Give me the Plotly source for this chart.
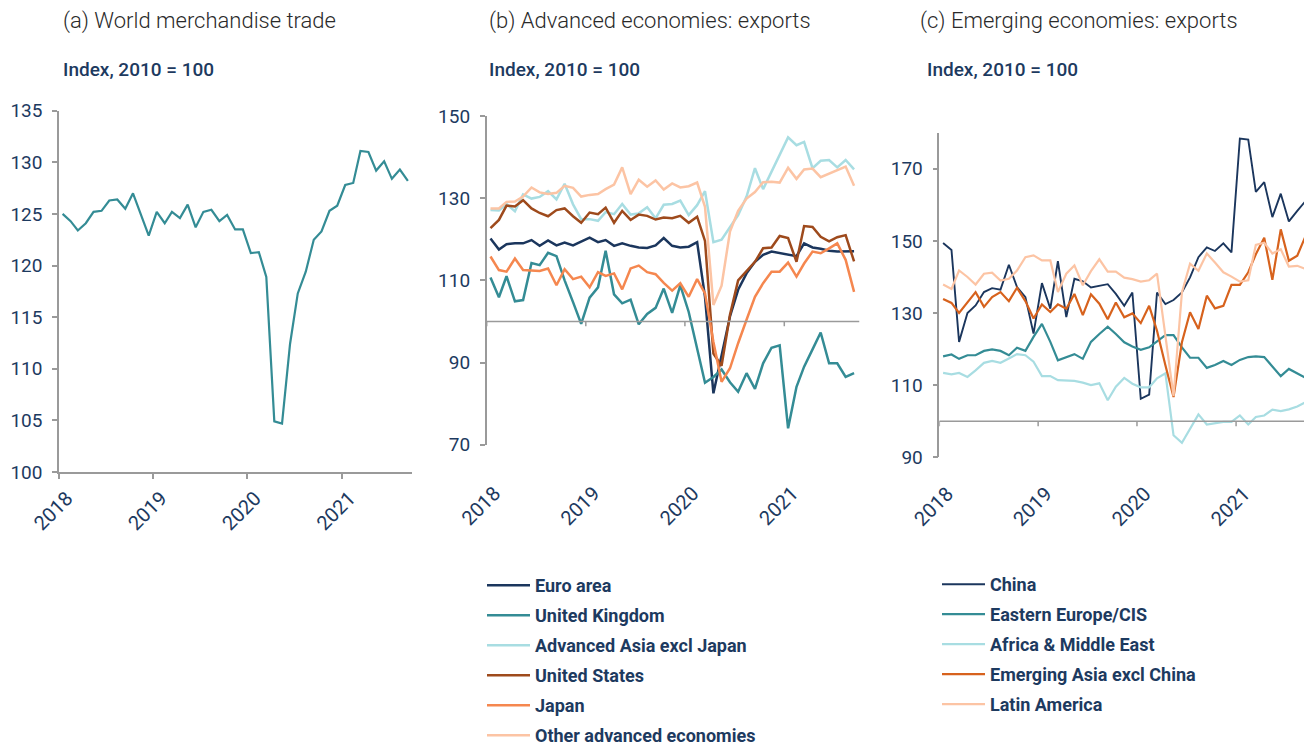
import plotly.graph_objects as go

# page body has an 8px default margin; the figure is sized to fit the window
OFF = 8
W, H = 1312 - OFF, 747 - OFF

# ---------------- data (monthly, Jan 2018 - Sep 2021) ----------------
months = [f"{2018 + i // 12}-{i % 12 + 1:02d}-15" for i in range(45)]
year_ticks = ["2018-01-01", "2019-01-01", "2020-01-01", "2021-01-01"]
year_labels = ["2018", "2019", "2020", "2021"]

world = [125.0, 124.3, 123.4, 124.1, 125.2, 125.3, 126.3, 126.4, 125.5, 127.0,
         124.9, 122.9, 125.2, 124.1, 125.2, 124.6, 125.9, 123.7, 125.2, 125.4,
         124.3, 124.9, 123.5, 123.5, 121.2, 121.3, 118.9, 104.9, 104.7, 112.4,
         117.3, 119.4, 122.5, 123.3, 125.3, 125.8, 127.8, 128.0, 131.1, 131.0,
         129.2, 130.1, 128.4, 129.3, 128.2]

euro_area = [120.2, 117.5, 118.8, 119.0, 119.0, 119.8, 118.4, 119.7, 118.5, 119.2,
             118.5, 119.5, 120.4, 119.3, 119.8, 118.4, 119.0, 118.4, 118.0, 117.9,
             118.5, 120.3, 118.4, 118.0, 118.2, 119.3, 106.0, 82.5, 91.4, 101.2,
             107.7, 111.7, 114.5, 116.2, 117.0, 116.6, 116.2, 115.9, 119.0, 118.0,
             117.7, 117.2, 117.0, 117.1, 117.1]
united_kingdom = [110.7, 105.9, 111.0, 104.9, 105.2, 114.2, 113.7, 116.7, 115.9, 110.0,
                  104.7, 99.4, 105.8, 108.3, 117.2, 106.6, 104.4, 105.3, 99.3, 101.8,
                  103.3, 108.0, 102.1, 108.8, 102.3, 93.5, 85.1, 86.5, 88.3, 85.2,
                  82.9, 87.4, 83.6, 89.8, 93.6, 94.2, 74.0, 84.1, 89.0, 93.2,
                  97.3, 89.8, 89.8, 86.5, 87.4]
adv_asia = [127.1, 127.0, 128.6, 126.8, 130.9, 129.9, 130.3, 131.7, 129.7, 133.5,
            128.5, 124.9, 124.9, 124.5, 126.6, 126.1, 128.6, 126.0, 126.3, 127.8,
            125.1, 128.4, 128.6, 129.4, 125.9, 128.3, 131.7, 119.3, 119.9, 123.0,
            125.9, 130.4, 137.3, 132.2, 136.5, 140.7, 144.8, 142.9, 143.7, 137.3,
            139.1, 139.3, 137.5, 139.3, 137.0]
united_states = [122.7, 124.7, 128.2, 128.0, 129.5, 127.5, 126.4, 125.6, 127.1, 127.5,
                 125.6, 124.0, 126.5, 126.1, 127.7, 124.0, 126.9, 124.7, 126.0, 125.7,
                 124.8, 125.3, 125.1, 125.7, 124.0, 125.5, 119.6, 92.2, 89.2, 101.6,
                 110.0, 112.3, 114.5, 117.8, 118.0, 120.8, 120.3, 114.5, 123.2, 123.0,
                 120.6, 119.5, 120.5, 121.0, 114.6]
japan = [115.8, 112.5, 112.1, 115.3, 112.5, 112.4, 112.3, 112.9, 108.8, 112.7,
         110.3, 110.9, 108.3, 112.0, 111.1, 111.7, 107.8, 112.9, 113.6, 112.0,
         111.5, 109.4, 107.5, 109.3, 106.0, 110.3, 106.8, 95.0, 85.3, 88.6,
         94.7, 100.4, 106.0, 109.3, 112.1, 112.1, 114.3, 110.9, 114.1, 117.0,
         116.6, 117.8, 119.0, 115.0, 107.2]
other_advanced = [127.5, 127.5, 129.1, 129.2, 130.4, 132.6, 131.4, 131.0, 131.3, 133.0,
                  132.5, 130.4, 130.8, 131.0, 132.2, 133.3, 137.5, 131.0, 134.5, 132.8,
                  134.3, 132.1, 133.6, 132.6, 132.9, 133.8, 127.9, 104.0, 108.7, 121.9,
                  126.9, 129.9, 131.5, 133.9, 134.0, 133.8, 137.4, 134.7, 137.0, 137.2,
                  135.1, 136.0, 136.8, 137.7, 133.0]

china = [149.4, 147.5, 122.0, 130.0, 132.1, 135.8, 136.9, 136.5, 143.4, 137.2,
         134.4, 124.3, 138.3, 131.2, 144.4, 128.9, 139.5, 138.8, 137.1, 137.6,
         138.0, 135.3, 132.0, 135.7, 106.2, 107.4, 135.7, 132.5, 133.6, 135.7,
         139.9, 145.5, 148.2, 147.2, 149.3, 146.8, 178.4, 178.1, 163.6, 166.3,
         156.6, 163.1, 155.4, 158.3, 161.1]
eastern_europe = [118.0, 118.5, 117.3, 118.3, 118.3, 119.5, 119.9, 119.5, 118.3, 120.4,
                  119.5, 123.4, 127.0, 122.0, 116.9, 117.8, 118.6, 117.3, 122.0, 124.2,
                  126.2, 124.2, 121.9, 120.7, 119.8, 120.5, 122.2, 123.9, 123.9, 120.5,
                  117.6, 117.6, 114.8, 115.6, 116.7, 115.6, 117.0, 117.8, 118.0, 117.8,
                  115.2, 112.5, 114.5, 113.2, 112.0]
africa_me = [113.4, 113.0, 113.4, 112.3, 114.1, 116.2, 116.7, 116.2, 117.4, 118.6,
             118.3, 116.5, 112.5, 112.5, 111.4, 111.4, 111.2, 110.7, 110.0, 110.5,
             105.8, 109.6, 112.0, 110.4, 109.4, 109.4, 111.9, 113.3, 96.1, 94.0,
             97.9, 101.9, 99.1, 99.5, 99.8, 99.8, 101.6, 99.1, 101.2, 101.6,
             103.2, 102.8, 103.3, 104.1, 105.3]
emerging_asia = [133.9, 132.8, 130.0, 133.0, 135.8, 131.7, 134.4, 135.8, 133.3, 137.0,
                 133.3, 128.5, 132.4, 130.3, 132.4, 131.2, 135.3, 129.4, 135.2, 132.6,
                 128.3, 132.9, 128.8, 129.9, 127.2, 132.0, 125.1, 115.5, 106.7, 121.9,
                 130.2, 125.6, 134.8, 131.3, 132.0, 137.8, 137.8, 141.3, 146.3, 150.9,
                 139.2, 153.2, 144.5, 145.9, 151.4]
latin_america = [137.9, 136.7, 141.8, 140.0, 137.9, 140.9, 141.2, 139.0, 139.5, 141.8,
                 145.5, 146.0, 144.6, 144.6, 135.8, 140.9, 143.2, 137.7, 141.6, 144.9,
                 141.5, 141.5, 139.8, 139.4, 138.7, 139.1, 140.9, 124.0, 107.0, 135.7,
                 143.7, 141.7, 146.5, 144.0, 141.3, 140.1, 138.7, 139.1, 148.9, 149.5,
                 146.5, 147.7, 142.9, 143.1, 142.2]

adv_names = ["Euro area", "United Kingdom", "Advanced Asia excl Japan",
             "United States", "Japan", "Other advanced economies"]
adv_values = [euro_area, united_kingdom, adv_asia, united_states, japan, other_advanced]
em_names = ["China", "Eastern Europe/CIS", "Africa & Middle East",
            "Emerging Asia excl China", "Latin America"]
em_values = [china, eastern_europe, africa_me, emerging_asia, latin_america]

titles = ["(a) World merchandise trade", "(b) Advanced economies: exports",
          "(c) Emerging economies: exports"]
unit_label = "Index, 2010 = 100"

# ---------------- styles ----------------
NAVY = "#1b365d"
TEAL = "#348c95"
LIGHT_CYAN = "#a8dde2"
BROWN = "#9e4a1c"
ORANGE = "#f5874f"
PEACH = "#fcc4a4"
DARK_ORANGE = "#d7621d"
AXIS_GREY = "#9a9a9a"
TEXT_NAVY = "#1d3a5f"
FONT = "Roboto"

adv_colors = [NAVY, TEAL, LIGHT_CYAN, BROWN, ORANGE, PEACH]
em_colors = [NAVY, TEAL, LIGHT_CYAN, DARK_ORANGE, PEACH]

fig = go.Figure()

fig.add_trace(go.Scatter(x=months, y=world, mode="lines", xaxis="x", yaxis="y",
                         line=dict(color=TEAL, width=2.2), showlegend=False))

for name, vals, col in zip(adv_names, adv_values, adv_colors):
    fig.add_trace(go.Scatter(x=months, y=vals, mode="lines", name=name,
                             xaxis="x2", yaxis="y2", legend="legend",
                             legendgroup=name,
                             line=dict(color=col, width=2.5)))

for name, vals, col in zip(em_names, em_values, em_colors):
    fig.add_trace(go.Scatter(x=months, y=vals, mode="lines", name=name,
                             xaxis="x3", yaxis="y3", legend="legend2",
                             legendgroup=name,
                             line=dict(color=col, width=2.2 if name != "China" else 1.9)))


def px_x(p):
    return (p - OFF) / W


def px_y(p):
    return 1 - (p - OFF) / H


tickfont = dict(family=FONT, size=19, color=TEXT_NAVY)
xtickfont = dict(family=FONT, size=20, color=TEXT_NAVY)
base_axis = dict(showgrid=False, zeroline=False, linecolor=AXIS_GREY, linewidth=1.5,
                 tickcolor=AXIS_GREY, tickwidth=1.5, ticklen=5, tickfont=tickfont)

x_common = dict(base_axis, type="date", tickvals=year_ticks, ticktext=year_labels,
                tickangle=-45, tickfont=xtickfont, ticklabelshift=8)

legend_font = dict(family=FONT, size=18, color=TEXT_NAVY, weight=700)

layout = dict(
    width=W, height=H, paper_bgcolor="white", plot_bgcolor="white",
    margin=dict(l=0, r=0, t=0, b=0, autoexpand=False),
    xaxis=dict(x_common, domain=[px_x(59), px_x(412)],
               range=["2018-01-01", "2021-10-01"], showline=True, ticks="outside",
               anchor="y", ticklabelstandoff=0),
    yaxis=dict(base_axis, domain=[px_y(472), px_y(110.7)], range=[100, 135],
               dtick=5, showline=True, ticks="outside", anchor="x",
               ticklabelstandoff=6),
    xaxis2=dict(x_common, domain=[px_x(486.7), px_x(859.5)],
                range=["2018-01-01", "2021-10-05"], showline=False, ticks="",
                anchor="y2", ticklabelstandoff=32),
    yaxis2=dict(base_axis, domain=[px_y(444.7), px_y(116)], range=[70, 150],
                tickvals=[70, 90, 110, 130, 150], showline=True, ticks="outside",
                anchor="x2", ticklabelstandoff=6),
    xaxis3=dict(x_common, domain=[px_x(939.3), px_x(1310)],
                range=["2018-01-01", "2021-10-01"], showline=False, ticks="",
                anchor="y3", ticklabelstandoff=20),
    yaxis3=dict(base_axis, domain=[px_y(457.3), px_y(132.7)], range=[90, 180],
                tickvals=[90, 110, 130, 150, 170], showline=True, ticks="outside",
                anchor="x3", ticklabelstandoff=6),
    legend=dict(x=px_x(482), y=px_y(567), xanchor="left", yanchor="top",
                font=legend_font, bgcolor="rgba(0,0,0,0)", tracegroupgap=3.6,
                itemwidth=43),
    legend2=dict(x=px_x(937), y=px_y(566), xanchor="left", yanchor="top",
                 font=legend_font, bgcolor="rgba(0,0,0,0)", tracegroupgap=3.6,
                 itemwidth=43),
    showlegend=True,
)
fig.update_layout(**layout)

# baseline at 100 with year ticks (panels b and c)
shapes = []
for xr, yr, xend, tick_drop in [("x2", "y2", "2021-10-05", 1.2), ("x3", "y3", "2021-10-01", 1.4)]:
    shapes.append(dict(type="line", xref=xr, yref=yr, x0="2018-01-01", x1=xend,
                       y0=100, y1=100, line=dict(color=AXIS_GREY, width=1.5)))
    for t in year_ticks:
        shapes.append(dict(type="line", xref=xr, yref=yr, x0=t, x1=t,
                           y0=100, y1=100 - tick_drop,
                           line=dict(color=AXIS_GREY, width=1.5)))
fig.update_layout(shapes=shapes)

# titles and unit labels
ann = []
for title, tx, ix in zip(titles, [61, 487, 918], [61, 487, 925]):
    ann.append(dict(text=title, x=px_x(tx), y=px_y(21), xref="paper", yref="paper",
                    xanchor="left", yanchor="middle", showarrow=False,
                    font=dict(family=FONT, size=22, color="#2a2a2a", weight=300)))
    ann.append(dict(text=unit_label, x=px_x(ix), y=px_y(70), xref="paper", yref="paper",
                    xanchor="left", yanchor="middle", showarrow=False,
                    font=dict(family=FONT, size=19, color=TEXT_NAVY, weight=500)))
fig.update_layout(annotations=ann)

fig.write_html("out.html")
